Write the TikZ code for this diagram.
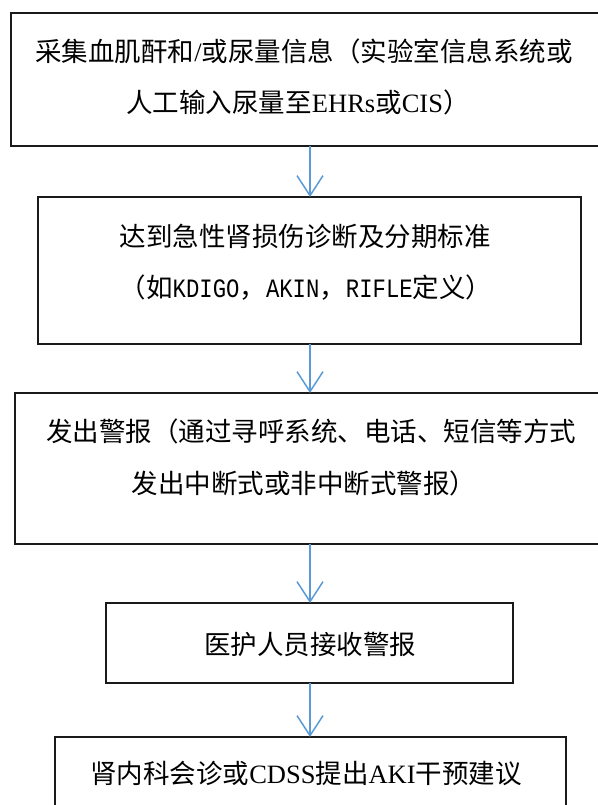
\documentclass[tikz,border=0pt]{standalone}
\usepackage{fontspec}
\setmainfont{Liberation Serif}
\newfontfamily\cjk{Noto Sans CJK SC}
\newfontfamily\monolat[FakeStretch=0.84]{Liberation Mono}
\usetikzlibrary{arrows.meta}
\definecolor{arrowblue}{HTML}{5B9BD5}
\definecolor{boxline}{HTML}{1A1A1A}
\tikzset{
  box/.style={draw=boxline, line width=2pt, rectangle, inner sep=0pt, outer sep=0pt},
  txt/.style={inner sep=0pt, font=\fontsize{26.5}{30}\selectfont},
  arr/.style={draw=arrowblue, line width=1.5pt,
    -{Straight Barb[length=20pt,width=26pt,line width=1.5pt]}}
}
\begin{document}
\begin{tikzpicture}[x=1pt,y=-1pt]
\useasboundingbox (0,0) rectangle (597,805);
% boxes
\node[box, minimum width=609pt, minimum height=133pt] (b1) at (315.5,79.5) {};
\node[box, minimum width=543pt, minimum height=147pt] (b2) at (309.5,270.5) {};
\node[box, minimum width=605pt, minimum height=151pt] (b3) at (317.5,468.5) {};
\node[box, minimum width=407pt, minimum height=80pt] (b4) at (309.5,643) {};
\node[box, minimum width=511pt, minimum height=93pt] (b5) at (310.5,783.5) {};
\coordinate (ax) at (310,0);
% texts
\node[txt] (t1a) at (304,51) {{\cjk 采集血肌酐和}/{\cjk 或尿量信息（实验室信息系统或}};
\node[txt] (t1b) at (298,102) {{\cjk 人工输入尿量至}EHRs{\cjk 或}CIS{\cjk ）}};
\node[txt] (t2a) at (305,236) {{\cjk 达到急性肾损伤诊断及分期标准}};
\node[txt] (t2b) at (306,288) {{\cjk （如}{\monolat KDIGO}{\cjk ，}{\monolat AKIN}{\cjk ，}{\monolat RIFLE}{\cjk 定义）}};
\node[txt] (t3a) at (311,431) {{\cjk 发出警报（通过寻呼系统、电话、短信等方式}};
\node[txt] (t3b) at (304,483) {{\cjk 发出中断式或非中断式警报）}};
\node[txt] (t4) at (310,644) {{\cjk 医护人员接收警报}};
\node[txt] (t5) at (306,773) {{\cjk 肾内科会诊或}CDSS{\cjk 提出}AKI{\cjk 干预建议}};
% arrows
\draw[arr] (b1.south -| ax) -- (b2.north -| ax);
\draw[arr] (b2.south -| ax) -- (b3.north -| ax);
\draw[arr] (b3.south -| ax) -- (b4.north -| ax);
\draw[arr] (b4.south -| ax) -- (b5.north -| ax);
\end{tikzpicture}
\end{document}
